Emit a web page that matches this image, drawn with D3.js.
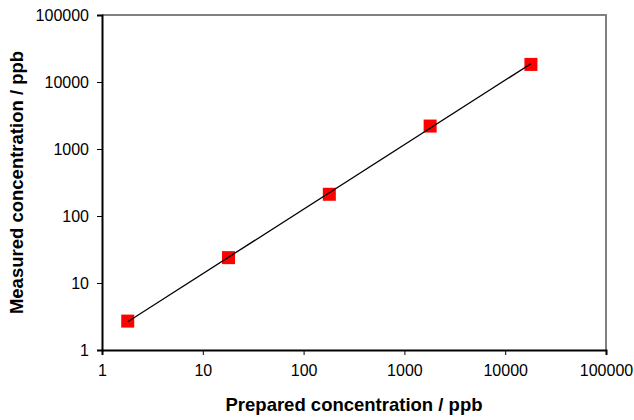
<!DOCTYPE html>
<html>
<head>
<meta charset="utf-8">
<script src="https://cdn.jsdelivr.net/npm/d3@7"></script>
<style>
  body { margin: 0; background: #fff; }
  svg text { font-family: "Liberation Sans", Arial, sans-serif; fill: #000; }
</style>
</head>
<body>
<svg id="chart" width="634" height="420"></svg>
<script>
// data
var prepared = [1.8, 18, 180, 1800, 18000];
var measured = [2.7, 23.9, 211, 2200, 18300];
var tickValues = [1, 10, 100, 1000, 10000, 100000];

var svg = d3.select("#chart"),
    margin = {top: 15, right: 28, bottom: 70, left: 102},
    w = +svg.attr("width") - margin.left - margin.right,
    h = +svg.attr("height") - margin.top - margin.bottom;

var x = d3.scaleLog().domain([1, 100000]).range([0, w]);
var y = d3.scaleLog().domain([1, 100000]).range([h, 0]);

var g = svg.append("g")
    .attr("transform", "translate(" + margin.left + "," + margin.top + ")");

// grey frame on top and right
g.append("path")
    .attr("d", "M0,0H" + w + "V" + h)
    .attr("fill", "none")
    .attr("stroke", "#808080")
    .attr("stroke-width", 2);

var xAxis = g.append("g")
    .attr("transform", "translate(0," + h + ")")
    .call(d3.axisBottom(x).tickValues(tickValues).tickFormat(d3.format("d")).tickSizeOuter(0).tickSize(5).tickPadding(10));

var yAxis = g.append("g")
    .call(d3.axisLeft(y).tickValues(tickValues).tickFormat(d3.format("d")).tickSizeOuter(0).tickSize(5).tickPadding(8));

[xAxis, yAxis].forEach(function(a) {
  a.select(".domain").attr("stroke", "#000").attr("stroke-width", 2);
  a.selectAll(".tick line").attr("stroke", "#000").attr("stroke-width", 1);
  a.selectAll("text")
    .style("font-family", "'Liberation Sans', Arial, sans-serif")
    .style("font-size", "16px");
});

// power trendline: least squares fit in log space
var lx = prepared.map(Math.log10), ly = measured.map(Math.log10);
var mx = d3.mean(lx), my = d3.mean(ly);
var slope = d3.sum(lx, function(d, i) { return (d - mx) * (ly[i] - my); }) /
            d3.sum(lx, function(d) { return (d - mx) * (d - mx); });
var icpt = my - slope * mx;
var fit = function(v) { return Math.pow(10, icpt + slope * Math.log10(v)); };
var ends = [d3.min(prepared), d3.max(prepared)];

var pts = prepared.map(function(d, i) { return {x: d, y: measured[i]}; });

g.selectAll(".pt")
    .data(pts)
  .enter().append("rect")
    .attr("class", "pt")
    .attr("x", function(d) { return x(d.x) - 6.5; })
    .attr("y", function(d) { return y(d.y) - 6.5; })
    .attr("width", 13)
    .attr("height", 13)
    .attr("fill", "#ff0000");

g.append("line")
    .attr("x1", x(ends[0])).attr("y1", y(fit(ends[0])))
    .attr("x2", x(ends[1])).attr("y2", y(fit(ends[1])))
    .attr("stroke", "#000")
    .attr("stroke-width", 1.3);

svg.append("text")
    .attr("x", margin.left + w / 2)
    .attr("y", 411)
    .attr("text-anchor", "middle")
    .style("font-weight", "bold")
    .style("font-size", "18.5px")
    .text("Prepared concentration / ppb");

svg.append("text")
    .attr("transform", "translate(23," + (margin.top + h / 2) + ") rotate(-90)")
    .attr("text-anchor", "middle")
    .style("font-weight", "bold")
    .style("font-size", "18.5px")
    .text("Measured concentration / ppb");
</script>
</body>
</html>
